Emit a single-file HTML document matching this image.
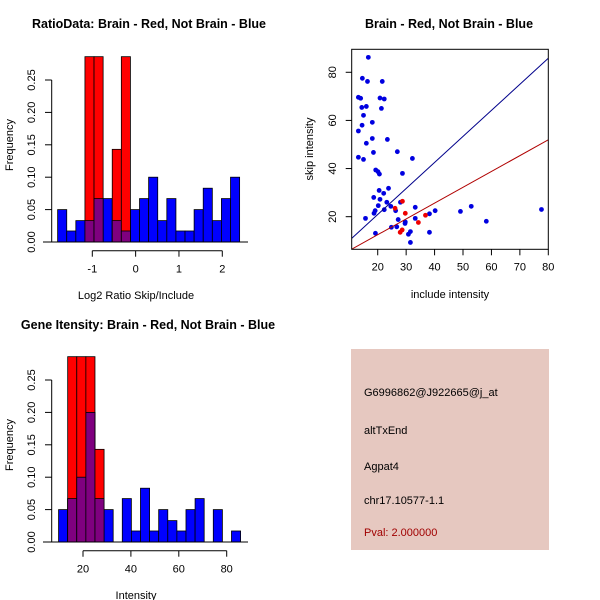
<!DOCTYPE html>
<html><head><meta charset="utf-8"><style>
html,body{margin:0;padding:0;background:#fff;}
svg{display:block;font-family:"Liberation Sans",Arial,sans-serif;}
</style></head><body>
<svg id="chart" width="600" height="600" viewBox="0 0 600 600">
<g id="hist1"></g>
<g id="scat"></g>
<g id="hist2"></g>
<g>
<rect x="351" y="349" width="198" height="201" fill="#e6c8c0"/>
<text x="364" y="396" font-size="11">G6996862@J922665@j_at</text>
<text x="364" y="434" font-size="11">altTxEnd</text>
<text x="364" y="470" font-size="11">Agpat4</text>
<text x="364" y="504" font-size="11">chr17.10577-1.1</text>
<text x="364" y="536" font-size="11" fill="#a00000">Pval: 2.000000</text>
</g>
</svg>
<script>
// ---- Histogram 1 data (Log2 ratio) ----
const h1Start = -1.8;
const h1Width = 0.21;
const h1Blue = [0.05,0.017,0.033,0.033,0.067,0.067,0.033,0.017,0.05,0.067,0.1,0.033,0.067,0.017,0.017,0.05,0.083,0.033,0.067,0.1];
const h1Red  = [0,0,0,0.286,0.286,0,0.143,0.286,0,0,0,0,0,0,0,0,0,0,0,0];
const h1XTicks = [-1,0,1,2];
const freqTicks = [0,0.05,0.10,0.15,0.20,0.25];
const freqTickLabels = ["0.00","0.05","0.10","0.15","0.20","0.25"];
// ---- Histogram 2 data (Intensity) ----
const h2Start = 9.8;
const h2Width = 3.8;
const h2Blue = [0.05,0.067,0.1,0.2,0.067,0.05,0,0.067,0.017,0.083,0.017,0.05,0.033,0.017,0.05,0.067,0,0.05,0,0.017];
const h2Red  = [0,0.286,0.286,0.286,0.143,0,0,0,0,0,0,0,0,0,0,0,0,0,0,0];
const h2XTicks = [20,40,60,80];
// ---- Scatter data ----
const blueX = [16.7,14.6,16.4,21.6,13.2,14.0,20.8,22.3,14.4,16.0,21.3,15.0,18.1,14.5,13.2,18.1,23.4,16.0,13.2,15.0,32.2,18.5,26.9,19.3,20.1,20.6,28.7,23.8,20.5,22.1,18.6,20.8,23.2,28.0,24.6,20.2,33.2,22.3,19.1,26.3,18.7,40.2,38.2,49.1,52.9,77.6,58.2,15.7,33.2,27.2,29.7,29.6,24.8,26.7,31.5,30.8,38.2,19.2,31.5];
const blueY = [86.2,77.5,76.2,76.2,69.6,69.2,69.3,68.9,65.4,65.8,65.0,62.1,59.2,58.0,55.6,52.5,52.1,50.5,44.7,43.8,44.2,46.7,47.0,39.4,38.7,37.7,38.0,31.8,30.9,29.7,28.0,27.2,26.0,26.0,24.3,24.6,23.9,22.9,22.5,22.5,21.4,22.5,21.2,22.2,24.3,23.0,18.1,19.3,19.3,18.8,17.8,17.2,15.6,15.8,13.8,12.7,13.5,13.1,9.3];
const redX = [26.1,28.7,29.7,36.8,34.3,28.6,27.9];
const redY = [23.5,26.4,21.4,20.6,17.6,14.5,13.5];
const blueLine = [-0.74,1.082]; // intercept, slope
const redLine = [-0.63,0.657];
const scXTicks = [20,30,40,50,60,70,80];
const scYTicks = [20,40,60,80];

const NS="http://www.w3.org/2000/svg";
function mk(parent,tag,attrs,txt){const e=document.createElementNS(NS,tag);for(const k in attrs)e.setAttribute(k,attrs[k]);if(txt!==undefined)e.textContent=txt;parent.appendChild(e);return e;}

function drawHist(g,start,width,blue,red,xTicks,x0,pxPerUnit,ybase,title,xlabel,titleX,titleY){
  const sx=v=>x0+(v-xTicks[0])*pxPerUnit;
  const sy=v=>ybase-v*648;
  for(let i=0;i<blue.length;i++){
    const xa=sx(start+i*width), xb=sx(start+(i+1)*width);
    if(blue[i]>0){const r=mk(g,'rect',{x:xa,y:sy(blue[i]),width:xb-xa,height:ybase-sy(blue[i]),fill:'#0000ff',stroke:'#000','stroke-width':0.8});
      
      }
  }
  for(let i=0;i<red.length;i++){
    if(red[i]<=0)continue;
    const xa=sx(start+i*width), xb=sx(start+(i+1)*width);
    const r=mk(g,'rect',{x:xa,y:sy(red[i]),width:xb-xa,height:ybase-sy(red[i]),fill:'#ff0000',stroke:'#000','stroke-width':0.8});
    
    
    const m=Math.min(red[i],blue[i]);
    if(m>0){const p=mk(g,'rect',{x:xa,y:sy(m),width:xb-xa,height:ybase-sy(m),fill:'#7f007f',stroke:'#000','stroke-width':0.8});
      
      }
  }
  mk(g,'line',{x1:43,x2:248,y1:ybase,y2:ybase,stroke:'#000'});
  mk(g,'line',{x1:51.7,x2:51.7,y1:sy(0),y2:sy(0.25),stroke:'#000'});
  freqTicks.forEach((t,i)=>{mk(g,'line',{x1:45,x2:51.7,y1:sy(t),y2:sy(t),stroke:'#000'});
    const tl=mk(g,'text',{x:0,y:0,'font-size':11,'text-anchor':'middle',transform:`translate(35,${sy(t)}) rotate(-90)`},freqTickLabels[i]);
    
    });
  const ya=ybase+8.7;
  mk(g,'line',{x1:sx(xTicks[0]),x2:sx(xTicks[xTicks.length-1]),y1:ya,y2:ya,stroke:'#000'});
  xTicks.forEach(t=>{mk(g,'line',{x1:sx(t),x2:sx(t),y1:ya,y2:ya+6,stroke:'#000'});
    const tl=mk(g,'text',{x:sx(t),y:ya+22,'font-size':11,'text-anchor':'middle'},String(t));
    
    });
  const yt=mk(g,'text',{x:0,y:0,'font-size':11,'text-anchor':'middle',transform:`translate(13,${ybase-97}) rotate(-90)`},'Frequency');
  
  
  const xt=mk(g,'text',{x:136,y:ybase+57,'font-size':11,'text-anchor':'middle'},xlabel);
  
  
  const tt=mk(g,'text',{x:titleX,y:titleY,'font-size':12.5,'font-weight':'bold','text-anchor':'middle'},title);
  
  
}
drawHist(document.getElementById('hist1'),h1Start,h1Width,h1Blue,h1Red,h1XTicks,92.3,43.33,242,'RatioData: Brain - Red, Not Brain - Blue','Log2 Ratio Skip/Include',149,28);
drawHist(document.getElementById('hist2'),h2Start,h2Width,h2Blue,h2Red,h2XTicks,83,2.395,542,'Gene Itensity: Brain - Red, Not Brain - Blue','Intensity',148,329);

// Scatter
(function(){
  const g=document.getElementById('scat');
  const L=351.7,R=548.3,T=49.3,B=249.3;
  const xmin=10.85,xmax=80,ymin=6.45,ymax=89.55;
  const sx=v=>L+(v-xmin)/(xmax-xmin)*(R-L);
  const sy=v=>B-(v-ymin)/(ymax-ymin)*(B-T);
  const cp=mk(g,'clipPath',{id:'scclip'});mk(cp,'rect',{x:L,y:T,width:R-L,height:B-T});
  blueX.forEach((x,i)=>{const c=mk(g,'circle',{cx:sx(x),cy:sy(blueY[i]),r:2.4,fill:'#0000e0'});
    
    });
  redX.forEach((x,i)=>{const c=mk(g,'circle',{cx:sx(x),cy:sy(redY[i]),r:2.4,fill:'#ee0000'});
    
    });
  [[blueLine,'#00008b','blue-fit-line'],[redLine,'#b00000','red-fit-line']].forEach(([ln,col,nm])=>{
    const l=mk(g,'line',{x1:sx(xmin),y1:sy(ln[0]+ln[1]*xmin),x2:sx(xmax),y2:sy(ln[0]+ln[1]*xmax),stroke:col,'stroke-width':1,'clip-path':'url(#scclip)'});
    
    });
  mk(g,'rect',{x:L,y:T,width:R-L,height:B-T,fill:'none',stroke:'#000'});
  scXTicks.forEach(t=>{mk(g,'line',{x1:sx(t),x2:sx(t),y1:B,y2:B+6,stroke:'#000'});
    const tl=mk(g,'text',{x:sx(t),y:B+21,'font-size':11,'text-anchor':'middle'},String(t));
    
    });
  scYTicks.forEach(t=>{mk(g,'line',{x1:L-6,x2:L,y1:sy(t),y2:sy(t),stroke:'#000'});
    const tl=mk(g,'text',{x:0,y:0,'font-size':11,'text-anchor':'middle',transform:`translate(336,${sy(t)}) rotate(-90)`},String(t));
    
    });
  const xt=mk(g,'text',{x:450,y:298,'font-size':11,'text-anchor':'middle'},'include intensity');
  
  
  const yt=mk(g,'text',{x:0,y:0,'font-size':11,'text-anchor':'middle',transform:'translate(313,149) rotate(-90)'},'skip intensity');
  
  
  const tt=mk(g,'text',{x:449,y:28,'font-size':12.5,'font-weight':'bold','text-anchor':'middle'},'Brain - Red, Not Brain - Blue');
  
  
})();
</script>
</body></html>
